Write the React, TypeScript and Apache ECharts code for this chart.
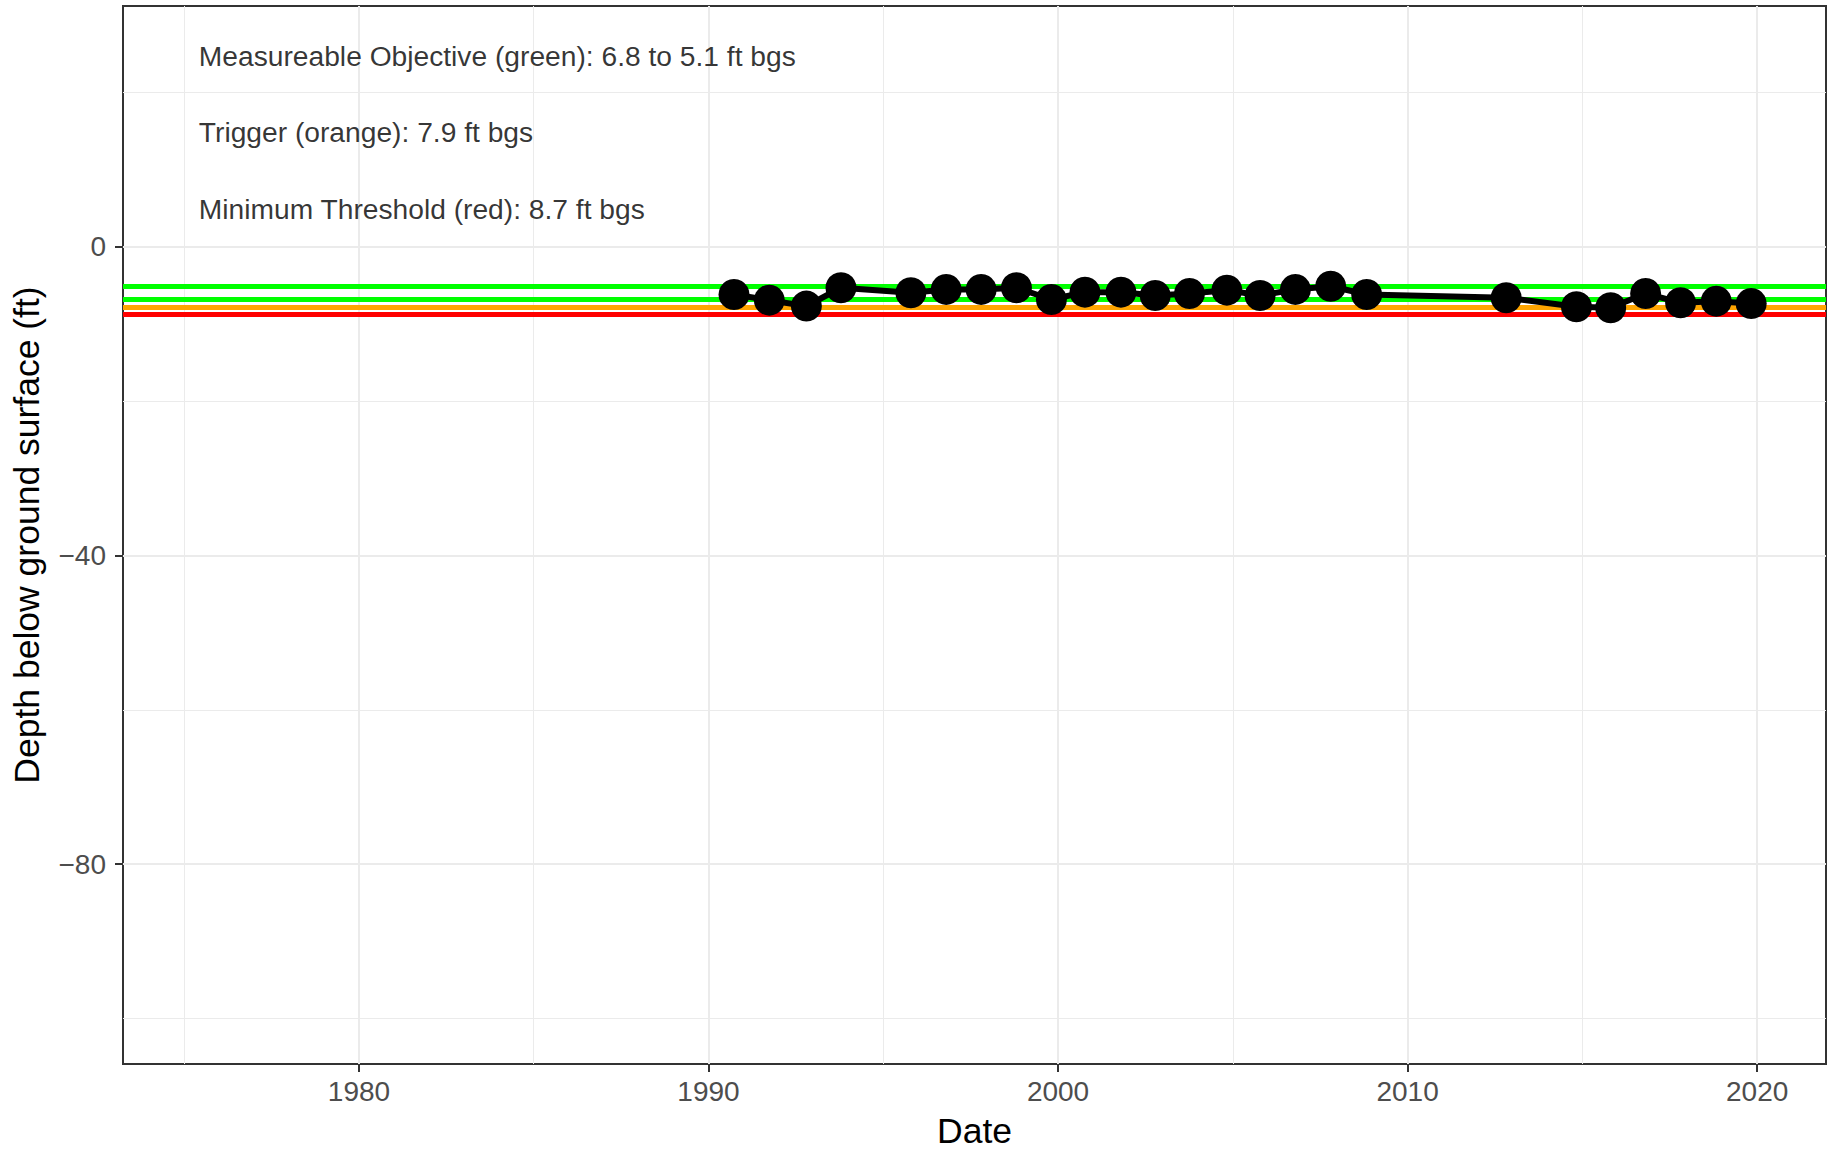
import React, { useEffect, useRef } from "react";
import * as echarts from "echarts";

// Measurement dates (decimal years) and depth below ground surface (ft, negative = below)
const dates: number[] = [
  1990.73, 1991.74, 1992.8, 1993.79, 1995.79, 1996.8, 1997.8, 1998.81, 1999.81,
  2000.77, 2001.8, 2002.78, 2003.76, 2004.83, 2005.78, 2006.79, 2007.8, 2008.83,
  2012.82, 2014.83, 2015.81, 2016.81, 2017.81, 2018.83, 2019.83,
];
const depths: number[] = [
  -6.18, -6.92, -7.69, -5.31, -5.96, -5.53, -5.53, -5.31, -6.83,
  -5.88, -5.88, -6.31, -6.05, -5.62, -6.31, -5.53, -5.11, -6.18,
  -6.61, -7.77, -7.9, -6.05, -7.26, -7.05, -7.35,
];

// Threshold lines
const objectiveLevels: number[] = [-5.1, -6.8];
const triggerLevel = -7.9;
const thresholdLevel = -8.7;

// Annotations
const annotationTexts: string[] = [
  "Measureable Objective (green): 6.8 to 5.1 ft bgs",
  "Trigger (orange): 7.9 ft bgs",
  "Minimum Threshold (red): 8.7 ft bgs",
];
const annotationX = 1975.42;
const annotationY: number[] = [24.75, 14.9, 4.9];

// Axis ticks / grid
const xTicks: number[] = [1980, 1990, 2000, 2010, 2020];
const xMinorGrid: number[] = [1975, 1985, 1995, 2005, 2015];
const yTicks: number[] = [0, -40, -80];
const yMinorGrid: number[] = [20, -20, -60, -100];
const xMin = 1973.25;
const xMax = 2021.97;
const yMin = -105.9;
const yMax = 31.2;

const FONT = "'Liberation Sans', Arial, Helvetica, sans-serif";

export default function App() {
  const ref = useRef<HTMLDivElement>(null);

  useEffect(() => {
    if (!ref.current) return;
    const chart = echarts.init(ref.current, undefined, { renderer: "svg" });

    const gridLines: any[] = [
      ...xMinorGrid.map((v) => ({ xAxis: v, lineStyle: { color: "#EBEBEB", width: 1, type: "solid" } })),
      ...yMinorGrid.map((v) => ({ yAxis: v, lineStyle: { color: "#EBEBEB", width: 1, type: "solid" } })),
      ...xTicks.map((v) => ({ xAxis: v, lineStyle: { color: "#EBEBEB", width: 2, type: "solid" } })),
      ...yTicks.map((v) => ({ yAxis: v, lineStyle: { color: "#EBEBEB", width: 2, type: "solid" } })),
    ];

    const levelLines: any[] = [
      ...objectiveLevels.map((v) => ({ yAxis: v, lineStyle: { color: "#00FF00", width: 5, type: "solid" } })),
      { yAxis: triggerLevel, lineStyle: { color: "#FFA500", width: 5, type: "solid" } },
      { yAxis: thresholdLevel, lineStyle: { color: "#FF0000", width: 5, type: "solid" } },
    ];

    chart.setOption({
      animation: false,
      backgroundColor: "#FFFFFF",
      textStyle: { fontFamily: FONT },
      grid: {
        left: 123,
        right: 11,
        top: 6,
        bottom: 87,
        show: true,
        borderColor: "#333333",
        borderWidth: 2,
        backgroundColor: "transparent",
      },
      xAxis: {
        type: "value",
        min: xMin,
        max: xMax,
        name: "Date",
        nameLocation: "middle",
        nameGap: 49,
        nameTextStyle: { fontSize: 35.5, color: "#000000", fontFamily: FONT },
        axisLine: { show: true, onZero: false, lineStyle: { color: "#333333", width: 2 } },
        axisTick: {
          show: true,
          customValues: xTicks,
          length: 8,
          lineStyle: { color: "#333333", width: 2 },
        },
        axisLabel: {
          customValues: xTicks,
          fontSize: 28,
          color: "#4D4D4D",
          margin: 13,
          fontFamily: FONT,
          formatter: (v: number) => String(Math.round(v)),
        },
        splitLine: { show: false },
      },
      yAxis: {
        type: "value",
        min: yMin,
        max: yMax,
        name: "Depth below ground surface (ft)",
        nameLocation: "middle",
        nameGap: 78,
        nameTextStyle: { fontSize: 35.5, color: "#000000", fontFamily: FONT },
        axisLine: { show: true, onZero: false, lineStyle: { color: "#333333", width: 2 } },
        axisTick: {
          show: true,
          customValues: yTicks,
          length: 8,
          lineStyle: { color: "#333333", width: 2 },
        },
        axisLabel: {
          customValues: yTicks,
          fontSize: 28,
          color: "#4D4D4D",
          margin: 17,
          fontFamily: FONT,
          formatter: (v: number) => String(Math.round(v)).replace("-", "\u2212"),
        },
        splitLine: { show: false },
      },
      series: [
        {
          type: "line",
          data: [],
          z: 1,
          silent: true,
          markLine: {
            silent: true,
            symbol: ["none", "none"],
            label: { show: false },
            data: gridLines,
            z: 1,
          },
        },
        {
          type: "line",
          data: [],
          z: 2,
          silent: true,
          markLine: {
            silent: true,
            symbol: ["none", "none"],
            label: { show: false },
            data: levelLines,
            z: 2,
          },
        },
        {
          type: "line",
          z: 5,
          data: dates.map((d, i) => [d, depths[i]]),
          lineStyle: { color: "#000000", width: 6 },
          itemStyle: { color: "#000000" },
          symbol: "circle",
          symbolSize: 31,
          showSymbol: true,
          showAllSymbol: true,
        },
        {
          type: "scatter",
          z: 6,
          symbolSize: 0,
          silent: true,
          data: annotationY.map((y, i) => ({ value: [annotationX, y], name: annotationTexts[i] })),
          label: {
            show: true,
            position: "right",
            distance: 0,
            formatter: (p: any) => p.name,
            fontSize: 28.2,
            color: "#000000",
            fontFamily: FONT,
          },
        },
      ],
    });

    return () => chart.dispose();
  }, []);

  return (
    <div
      ref={ref}
      style={{ position: "fixed", left: 0, top: 0, width: "1837px", height: "1154px" }}
    />
  );
}
